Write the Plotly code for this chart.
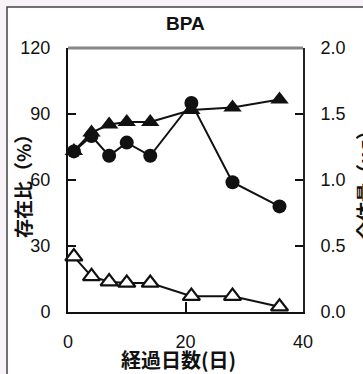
import plotly.graph_objects as go

# Sampling days
days = [1, 4, 7, 10, 14, 21, 28, 36]

# Abundance ratio (%), left axis
ratio_pct = [73, 80, 71, 77, 71, 95, 59, 48]

# Amounts, right axis
total_amount = [1.22, 1.36, 1.42, 1.44, 1.44, 1.53, 1.55, 1.61]
residual_amount = [0.42, 0.27, 0.23, 0.22, 0.22, 0.12, 0.12, 0.04]

left_ticks = [0, 30, 60, 90, 120]
right_ticks = [0.0, 0.5, 1.0, 1.5, 2.0]
x_ticks = [0, 20, 40]

INK = "#111111"
FONT = "Liberation Sans, Arial, sans-serif"
CJK = "Noto Sans CJK JP, sans-serif"

W, H = 363, 374
L, R, T, B = 68, 60, 48, 62
pw, ph = W - L - R, H - T - B


def px_x(px):
    return (px - L) / pw


def px_y(py):
    return (H - B - py) / ph


fig = go.Figure()

fig.add_trace(go.Scatter(
    x=days, y=ratio_pct, mode="lines+markers", cliponaxis=False,
    line=dict(color=INK, width=2),
    marker=dict(symbol="circle", size=14, color=INK),
    yaxis="y",
))
fig.add_trace(go.Scatter(
    x=days, y=total_amount, mode="lines+markers", cliponaxis=False,
    line=dict(color=INK, width=2),
    marker=dict(symbol="triangle-up", size=16, color=INK),
    yaxis="y2",
))
fig.add_trace(go.Scatter(
    x=days, y=residual_amount, mode="lines+markers", cliponaxis=False,
    line=dict(color=INK, width=2),
    marker=dict(symbol="triangle-up", size=15, color="white",
                line=dict(color=INK, width=2.2)),
    yaxis="y2",
))

tickfont = dict(family=FONT, size=18, color=INK)

fig.update_layout(
    width=W, height=H,
    margin=dict(l=L, r=R, t=T, b=B),
    paper_bgcolor="#f7f3f7",
    plot_bgcolor="white",
    showlegend=False,
    xaxis=dict(
        range=[0, 40], tickvals=x_ticks, ticks="inside", ticklen=10,
        tickcolor=INK, tickwidth=1.5, showgrid=False, zeroline=False,
        showline=True, linecolor=INK, linewidth=2, tickfont=tickfont,
        ticklabelstandoff=12,
    ),
    yaxis=dict(
        range=[0, 120], tickvals=left_ticks, ticks="inside", ticklen=8,
        tickcolor=INK, tickwidth=1.5, showgrid=False, zeroline=False,
        showline=True, linecolor=INK, linewidth=2, tickfont=tickfont,
        ticklabelstandoff=12,
    ),
    yaxis2=dict(
        range=[0, 2], tickvals=right_ticks, tickformat=".1f",
        ticks="inside", ticklen=8, tickcolor=INK, tickwidth=1.5,
        overlaying="y", side="right", showgrid=False, zeroline=False,
        showline=True, linecolor="#222222", linewidth=2, tickfont=tickfont,
        ticklabelstandoff=12,
    ),
    shapes=[
        # outer frame
        dict(type="rect", xref="paper", yref="paper", layer="below",
             x0=px_x(7), x1=px_x(420), y0=px_y(420), y1=px_y(7),
             line=dict(color="#444444", width=1.5), fillcolor="white"),
        # top edge of the plot area
        dict(type="line", xref="paper", yref="paper",
             x0=0, x1=1, y0=1, y1=1,
             line=dict(color="#888888", width=3)),
    ],
    annotations=[
        dict(text="BPA", xref="paper", yref="paper", x=0.5, y=px_y(23.5),
             xanchor="center", yanchor="middle", showarrow=False,
             font=dict(family=FONT, size=19, color=INK, weight="bold")),
        dict(text="経過日数(日)", xref="paper", yref="paper",
             x=px_x(178), y=px_y(359), xanchor="center", yanchor="middle",
             showarrow=False,
             font=dict(family=CJK, size=20, color=INK, weight="bold")),
        dict(text="存在比（%）", xref="paper", yref="paper",
             x=px_x(22), y=px_y(182), textangle=-90,
             xanchor="center", yanchor="middle", showarrow=False,
             font=dict(family=CJK, size=19, color=INK, weight="bold")),
        dict(text="全体量（μg）", xref="paper", yref="paper",
             x=px_x(364), y=px_y(181), textangle=-90,
             xanchor="center", yanchor="middle", showarrow=False,
             font=dict(family=CJK, size=19, color=INK, weight="bold")),
    ],
)

fig.write_html("out.html")
